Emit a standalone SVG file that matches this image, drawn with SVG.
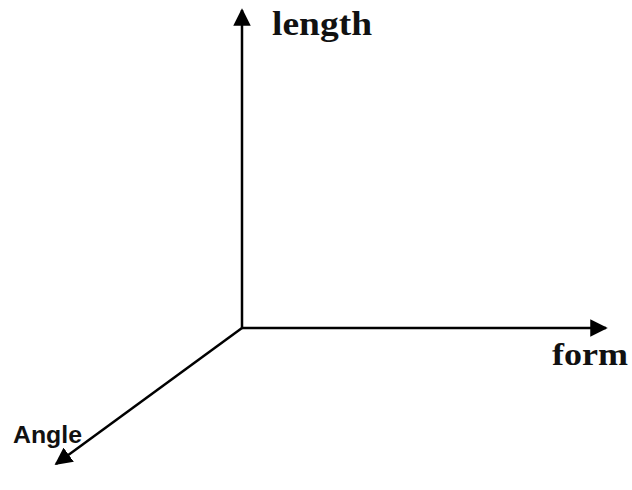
<svg xmlns="http://www.w3.org/2000/svg" width="632" height="490" viewBox="0 0 632 490">
<style>
.ax{stroke:#000;stroke-width:2.5;fill:none}
.serif{font-family:"Liberation Serif","DejaVu Serif",serif;font-weight:bold;fill:#111}
.sans{font-family:"Liberation Sans",Arial,sans-serif;font-weight:bold;fill:#111}
</style>
<defs>
<marker id="ah" viewBox="0 0 10 10" refX="9" refY="5" markerWidth="7" markerHeight="7" markerUnits="strokeWidth" orient="auto">
<path d="M0,0 L10,5 L0,10 z" fill="#000"/>
</marker>
</defs>
<rect width="632" height="490" fill="#fff"/>
<g id="connectors">
<line class="ax" x1="242" y1="328" x2="242" y2="10" marker-end="url(#ah)"/>
<line class="ax" x1="242" y1="328" x2="606" y2="328" marker-end="url(#ah)"/>
<line class="ax" x1="242" y1="328" x2="56" y2="464" marker-end="url(#ah)"/>
</g>
<g id="length"><text class="serif" x="272" y="35" font-size="33" textLength="100" lengthAdjust="spacingAndGlyphs">length</text></g>
<g id="form"><text class="serif" x="552" y="365" font-size="31" textLength="76" lengthAdjust="spacingAndGlyphs">form</text></g>
<g id="angle"><text class="sans" x="13" y="443" font-size="23" textLength="69" lengthAdjust="spacingAndGlyphs">Angle</text></g>
</svg>
